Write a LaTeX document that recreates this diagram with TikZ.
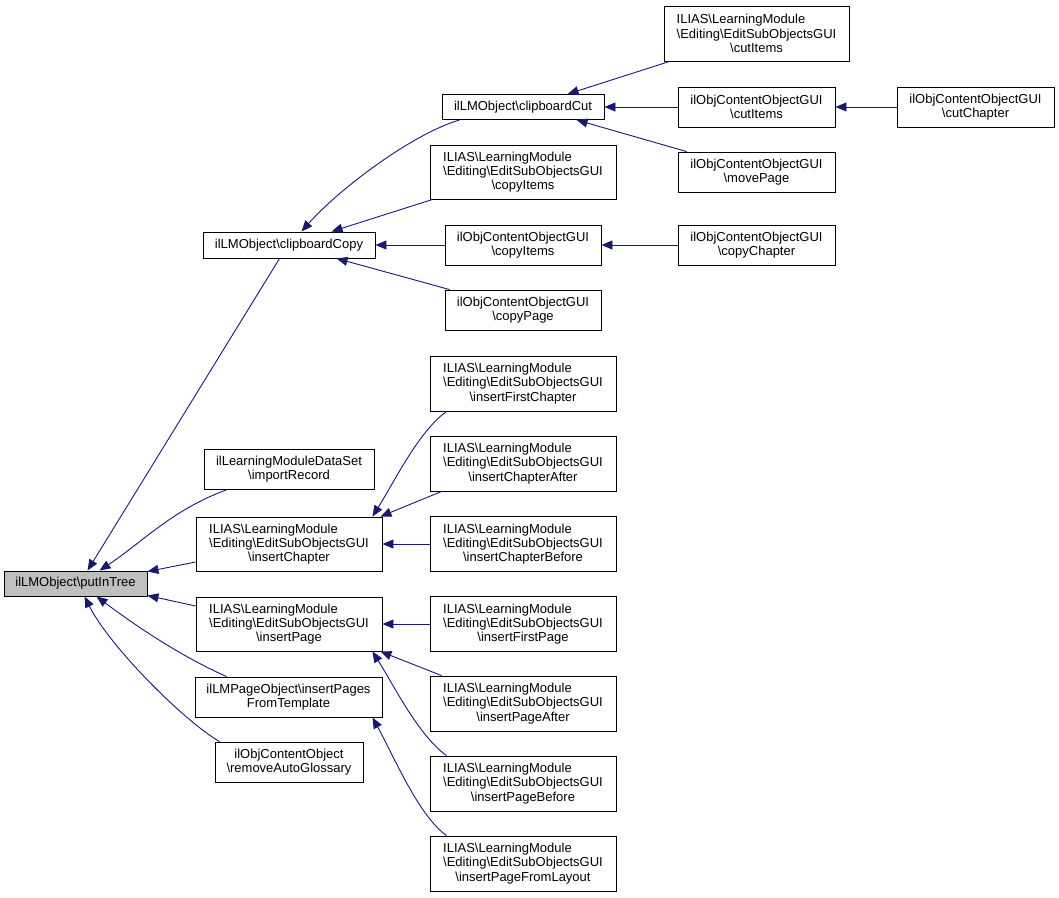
\documentclass[tikz,border=0pt]{standalone}
\usepackage{fontspec}
\setmainfont{Liberation Sans}
\usetikzlibrary{arrows.meta}
\definecolor{edgecol}{HTML}{191970}
\definecolor{hilite}{HTML}{BFBFBF}
\newcommand{\bs}{\textbackslash}
\newcommand{\ilias}[1]{\rlap{ILIAS\bs LearningModule}\phantom{\bs Editing\bs EditSubObjectsGUI}\\\bs Editing\bs EditSubObjectsGUI\\\bs #1}
\begin{document}
\begin{tikzpicture}[x=1pt,y=-1pt,
  box/.style={draw=black, line width=0.9pt, fill=white, inner sep=0pt, align=center,
    font=\fontsize{13}{14.3}\selectfont},
  edge/.style={draw=edgecol, line width=0.9pt, -{Triangle[length=11pt,width=9pt]}, edgecol}]
\useasboundingbox (0,0) rectangle (1059,897);
% nodes
\node[box, fill=hilite, minimum width=143pt, minimum height=25pt] (put) at (75.5,583.5) {ilLMObject\bs putInTree};
\node[box, minimum width=172pt, minimum height=26pt] (ccopy) at (289,245) {ilLMObject\bs clipboardCopy};
\node[box, minimum width=162pt, minimum height=25pt] (ccut) at (523,107) {ilLMObject\bs clipboardCut};
\node[box, minimum width=185pt, minimum height=55pt] (cutL) at (756.5,33.5) {\ilias{cutItems}};
\node[box, minimum width=157pt, minimum height=40pt] (cutO) at (756.5,107) {ilObjContentObjectGUI\\\bs cutItems};
\node[box, minimum width=157pt, minimum height=40pt] (cutch) at (975.5,107) {ilObjContentObjectGUI\\\bs cutChapter};
\node[box, minimum width=157pt, minimum height=40pt] (move) at (756.5,172) {ilObjContentObjectGUI\\\bs movePage};
\node[box, minimum width=186pt, minimum height=54pt] (copyL) at (523,172) {\ilias{copyItems}};
\node[box, minimum width=156pt, minimum height=40pt] (copyO) at (523,245) {ilObjContentObjectGUI\\\bs copyItems};
\node[box, minimum width=157pt, minimum height=40pt] (copych) at (756.5,245) {ilObjContentObjectGUI\\\bs copyChapter};
\node[box, minimum width=156pt, minimum height=40pt] (copyp) at (523,310) {ilObjContentObjectGUI\\\bs copyPage};
\node[box, minimum width=186pt, minimum height=55pt] (ifc) at (523,383.5) {\ilias{insertFirstChapter}};
\node[box, minimum width=170pt, minimum height=40pt] (imp) at (289,469) {ilLearningModuleDataSet\\\bs importRecord};
\node[box, minimum width=186pt, minimum height=55pt] (ica) at (523,463.5) {\ilias{insertChapterAfter}};
\node[box, minimum width=186pt, minimum height=54pt] (ich) at (289,544) {\ilias{insertChapter}};
\node[box, minimum width=186pt, minimum height=55pt] (icb) at (523,544) {\ilias{insertChapterBefore}};
\node[box, minimum width=186pt, minimum height=54pt] (ipg) at (289,624) {\ilias{insertPage}};
\node[box, minimum width=186pt, minimum height=55pt] (ifp) at (523,624) {\ilias{insertFirstPage}};
\node[box, minimum width=187pt, minimum height=40pt] (ipt) at (288.5,697) {ilLMPageObject\bs insertPages\\FromTemplate};
\node[box, minimum width=186pt, minimum height=55pt] (ipa) at (523,703.5) {\ilias{insertPageAfter}};
\node[box, minimum width=148pt, minimum height=40pt] (rag) at (289,762) {ilObjContentObject\\\bs removeAutoGlossary};
\node[box, minimum width=186pt, minimum height=55pt] (ipb) at (523,783.5) {\ilias{insertPageBefore}};
\node[box, minimum width=186pt, minimum height=55pt] (ipl) at (523,863.5) {\ilias{insertPageFromLayout}};
% edges into putInTree
\draw[edge] ([xshift=77pt]ccopy.south west) -- ([xshift=84pt]put.north west);
\draw[edge] ([xshift=24pt]imp.south west) .. controls +(-55,20) and +(45,-30) .. ([xshift=96pt]put.north west);
\draw[edge] ([yshift=-18pt]ich.west) -- ([yshift=-1pt]put.north east);
\draw[edge] ([yshift=18pt]ipg.west) -- ([yshift=1pt]put.south east);
\draw[edge] ([xshift=32pt]ipt.north west) .. controls +(-45,-20) and +(40,30) .. ([xshift=93pt]put.south west);
\draw[edge] ([xshift=5pt]rag.north west) .. controls +(-35,-20) and +(25,50) .. ([xshift=81pt]put.south west);
% edges into clipboardCopy
\draw[edge] ([xshift=18pt]ccut.south west) .. controls +(-50,15) and +(35,-40) .. ([xshift=99pt]ccopy.north west);
\draw[edge] ([xshift=3pt]copyL.south west) -- ([xshift=129pt]ccopy.north west);
\draw[edge] (copyO.west) -- (ccopy.east);
\draw[edge] ([xshift=5pt]copyp.north west) -- ([xshift=134pt]ccopy.south west);
% edges into clipboardCut
\draw[edge] ([xshift=6pt]cutL.south west) -- ([xshift=126pt]ccut.north west);
\draw[edge] (cutO.west) -- (ccut.east);
\draw[edge] ([xshift=9pt]move.north west) -- ([xshift=135pt]ccut.south west);
% second level
\draw[edge] (cutch.west) -- (cutO.east);
\draw[edge] (copych.west) -- (copyO.east);
% into insertChapter
\draw[edge] ([xshift=17pt]ifc.south west) .. controls +(-28,20) and +(22,-35) .. ([xshift=-10pt]ich.north east);
\draw[edge] ([xshift=12pt]ica.south west) -- ([xshift=-2pt]ich.north east);
\draw[edge] (icb.west) -- (ich.east);
% into insertPage
\draw[edge] (ifp.west) -- (ipg.east);
\draw[edge] ([xshift=12pt]ipa.north west) -- ([xshift=-2pt]ipg.south east);
\draw[edge] ([xshift=17pt]ipb.north west) .. controls +(-28,-20) and +(22,35) .. ([xshift=-10pt]ipg.south east);
% into insertPagesFromTemplate
\draw[edge] ([xshift=17pt]ipl.north west) .. controls +(-28,-20) and +(22,40) .. ([xshift=-10pt]ipt.south east);
\end{tikzpicture}
\end{document}
